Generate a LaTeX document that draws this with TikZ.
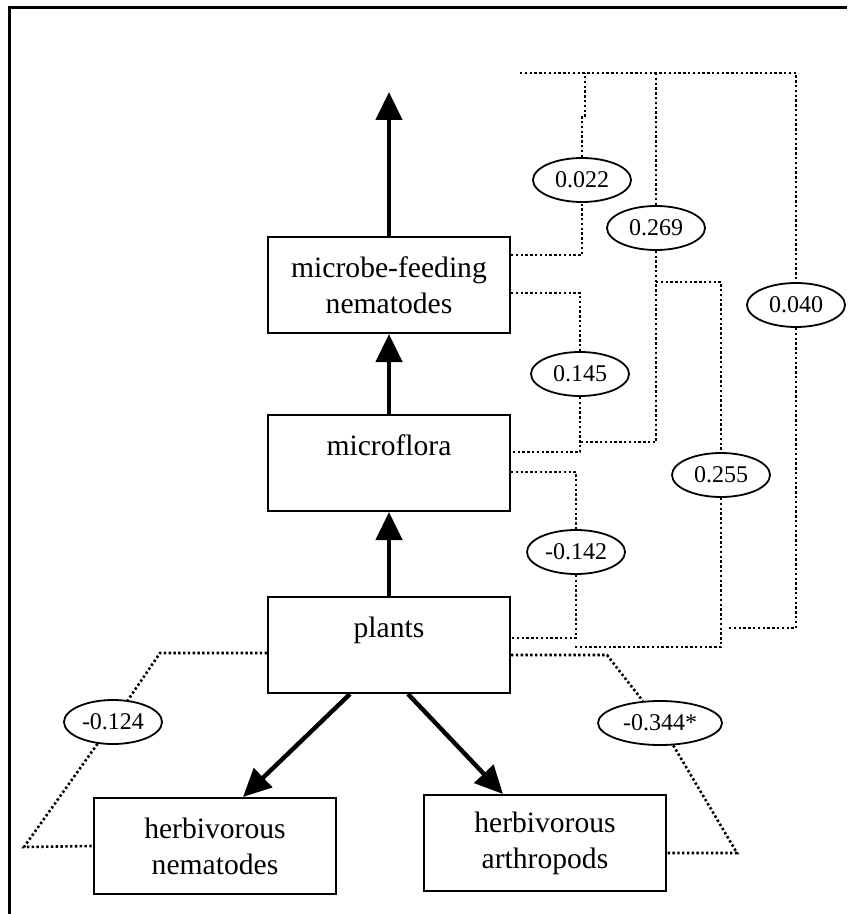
\documentclass[tikz,border=0pt]{standalone}
\usepackage{fontspec}
\setmainfont{Liberation Serif}
\usetikzlibrary{shapes.geometric, positioning, arrows.meta}

\begin{document}
\begin{tikzpicture}[x=0.5pt, y=-0.5pt,
    taxon/.style={rectangle, draw, line width=1pt, minimum width=121pt, minimum height=48pt, inner sep=0pt, align=center, font=\fontsize{14.8}{18}\selectfont},
    coef/.style={ellipse, draw, fill=white, line width=0.9pt, minimum width=49pt, minimum height=22pt, inner sep=0pt, font=\fontsize{12}{14}\selectfont},
    flow/.style={-{Triangle[length=14pt, width=13pt]}, line width=2.2pt},
    link/.style={line width=1.3pt, dash pattern=on 1.2pt off 1.2pt}]
    \useasboundingbox (0,0) rectangle (847,914);

    % Frame
    \draw [line width=1.5pt] (9.5,914) -- (9.5,8) -- (847,8);

    % Trophic groups
    \node [taxon] (mfn) at (389,285) {microbe-feeding\\nematodes};
    \node [taxon] (mfl) at (389,463) {microflora\\\mbox{}};
    \node [taxon] (plants) at (389,645) {plants\\\mbox{}};
    \node [taxon] (hn) at (215,846) {herbivorous\\nematodes};
    \node [taxon] (ha) at (545,843) {herbivorous\\arthropods};

    % Correlation coefficients
    \node [coef] (e022) at (582,180) {0.022};
    \node [coef] (e269) at (656,228) {0.269};
    \node [coef] (e145) at (580,374) {0.145};
    \node [coef] (e040) at (796,305) {0.040};
    \node [coef] (e255) at (721,475) {0.255};
    \node [coef] (e142) at (576,552) {-0.142};
    \node [coef, minimum width=62pt] (e344) at (660,723) {-0.344*};
    \node [coef] (e124) at (113,722) {-0.124};

    % Arrows
    \coordinate (tip) at (389,92);
    \draw [flow] (mfn.north) -- (tip);
    \draw [flow] (mfl.north) -- (mfn.south);
    \draw [flow] (plants.north) -- (mfl.south);
    \draw [flow] ([xshift=-19.5pt]plants.south) -- ([xshift=14pt]hn.north);
    \draw [flow] ([xshift=9.5pt]plants.south) -- ([xshift=-21pt]ha.north);

    % Dotted links
    \coordinate (tl) at (520,73);
    \coordinate (tr) at (796,73);
    \coordinate (j022) at (585,73);
    \coordinate (j269) at (580,442);
    \coordinate (j255) at (656,282);
    \coordinate (end255) at (573,647);
    \coordinate (end040) at (728,628);
    \draw [link] (tl) -- (tr) -- (e040.north);
    \draw [link] ([yshift=15pt]mfn.east) -| (e022.south);
    \draw [link] (e022.north) -- (582,117) -- (585,117) -- (j022);
    \draw [link] (656,73) -- (e269.north);
    \draw [link] (e269.south) |- (j269);
    \draw [link] (j255) -| (e255.north);
    \draw [link] (e255.south) |- (end255);
    \draw [link] (e040.south) |- (end040);
    \draw [link] ([yshift=-4pt]mfn.east) -| (e145.north);
    \draw [link] (e145.south) |- ([yshift=5.5pt]mfl.east);
    \draw [link] ([yshift=-4.5pt]mfl.east) -| (e142.north);
    \draw [link] (e142.south) |- ([yshift=3.5pt]plants.east);
    \draw [link] ([yshift=-5pt]plants.east) -- (607,655) -- (e344) -- (737,853) -- ([yshift=-5pt]ha.east);
    \draw [link] ([yshift=-4pt]plants.west) -- (160,653) -- (e124) -- (24,847) -- (hn.west);
\end{tikzpicture}
\end{document}
